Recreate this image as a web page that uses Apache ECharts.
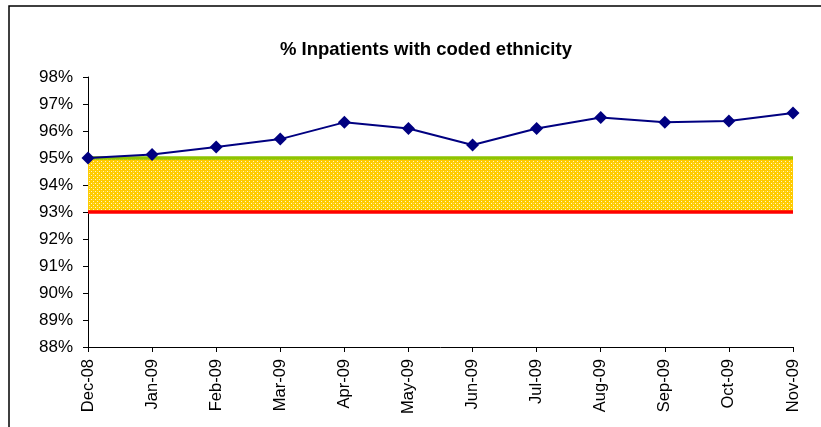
<!DOCTYPE html>
<html>
<head>
<meta charset="utf-8">
<script src="https://cdn.jsdelivr.net/npm/echarts@6/dist/echarts.min.js"></script>
<style>
  html, body { margin: 0; padding: 0; background: #fff; }
  #chart { width: 821px; height: 427px; }
</style>
</head>
<body>
<div id="chart"></div>
<script>
// Monthly share of inpatients with a coded ethnicity (%)
const months = ['Dec-08', 'Jan-09', 'Feb-09', 'Mar-09', 'Apr-09', 'May-09',
                'Jun-09', 'Jul-09', 'Aug-09', 'Sep-09', 'Oct-09', 'Nov-09'];
const codedPct = [95.0, 95.13, 95.41, 95.70, 96.32, 96.09,
                  95.48, 96.09, 96.50, 96.32, 96.37, 96.67];
// Tolerance band: lower threshold (red) and target (green)
const lowerThreshold = [93, 93, 93, 93, 93, 93, 93, 93, 93, 93, 93, 93];
const targetLevel = [95, 95, 95, 95, 95, 95, 95, 95, 95, 95, 95, 95];
const yTicks = { min: 88, max: 98, step: 1 };

const bandHeight = targetLevel.map((v, i) => v - lowerThreshold[i]);

// Dotted yellow fill for the tolerance band
function dotPattern() {
  const c = document.createElement('canvas');
  c.width = 4; c.height = 4;
  const g = c.getContext('2d');
  g.fillStyle = '#FFCC00';
  g.fillRect(0, 0, 4, 4);
  g.fillStyle = 'rgba(255,255,255,0.8)';
  g.fillRect(1, 1, 1, 1);
  g.fillRect(3, 3, 1, 1);
  g.fillStyle = 'rgba(255,255,255,0.25)';
  g.fillRect(1, 3, 1, 1);
  return c;
}

const chart = echarts.init(document.getElementById('chart'), null, { renderer: 'canvas' });
const font = 'Liberation Sans, Arial, sans-serif';

chart.setOption({
  animation: false,
  backgroundColor: '#ffffff',
  graphic: [{
    type: 'rect',
    shape: { x: 9, y: 6, width: 900, height: 500 },
    style: { fill: 'none', stroke: '#000', lineWidth: 1.5 },
    silent: true
  }, {
    type: 'text',
    left: 426 - 146,
    top: 40,
    style: {
      text: '% Inpatients with coded ethnicity',
      font: 'bold 18.5px ' + font,
      fill: '#000'
    }
  }],
  grid: { left: 88, right: 28, top: 77, bottom: 80, containLabel: false },
  xAxis: {
    type: 'category',
    data: months,
    boundaryGap: false,
    axisLine: { lineStyle: { color: '#000', width: 1 } },
    axisTick: { show: true, length: 5, lineStyle: { color: '#000' } },
    axisLabel: {
      rotate: 90, margin: 12, color: '#000',
      fontFamily: font, fontSize: 16.5, interval: 0
    },
    splitLine: { show: false }
  },
  yAxis: {
    type: 'value',
    min: yTicks.min, max: yTicks.max, interval: yTicks.step,
    axisLine: { show: true, lineStyle: { color: '#000', width: 1 } },
    axisTick: { show: true, length: 5, lineStyle: { color: '#000' } },
    axisLabel: {
      formatter: '{value}%', margin: 15, color: '#000',
      fontFamily: font, fontSize: 17
    },
    splitLine: { show: false }
  },
  series: [{
    name: 'base',
    type: 'line',
    stack: 'band',
    data: lowerThreshold,
    symbol: 'none',
    lineStyle: { width: 0, opacity: 0 },
    silent: true,
    z: 1
  }, {
    name: 'band',
    type: 'line',
    stack: 'band',
    data: bandHeight,
    symbol: 'none',
    lineStyle: { width: 0, opacity: 0 },
    areaStyle: { color: { image: dotPattern(), repeat: 'repeat' }, opacity: 1 },
    silent: true,
    z: 1
  }, {
    name: 'Lower threshold',
    type: 'line',
    data: lowerThreshold,
    symbol: 'none',
    lineStyle: { color: '#FF0000', width: 3.5 },
    silent: true,
    z: 2
  }, {
    name: 'Target',
    type: 'line',
    data: targetLevel,
    symbol: 'none',
    lineStyle: { color: '#8FC400', width: 3.5 },
    silent: true,
    z: 2
  }, {
    name: '% coded',
    type: 'line',
    data: codedPct,
    symbol: 'diamond',
    symbolSize: 13,
    itemStyle: { color: '#000080' },
    lineStyle: { color: '#000080', width: 2 },
    z: 3
  }]
});
</script>
</body>
</html>
